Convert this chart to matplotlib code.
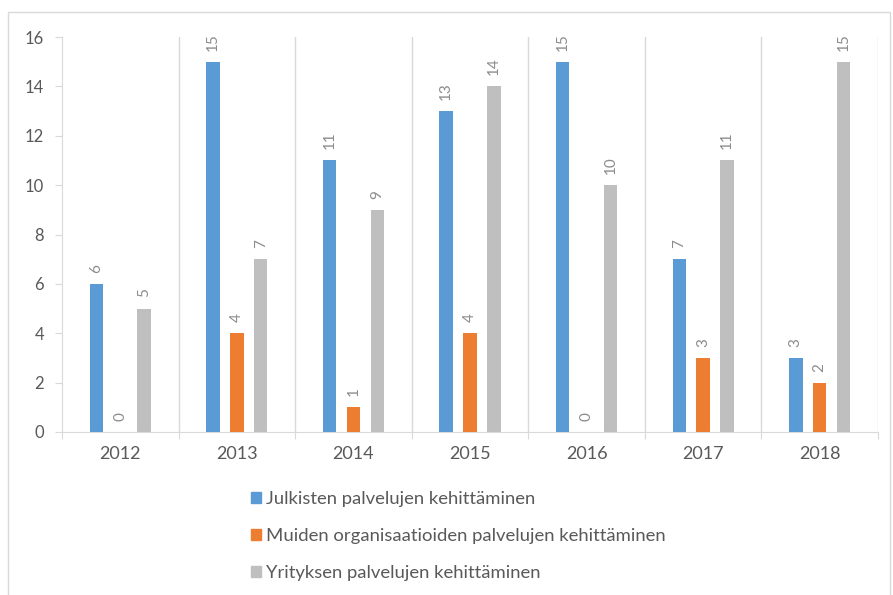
import matplotlib.pyplot as plt
import matplotlib.patches as mpatches
import numpy as np

years = ['2012', '2013', '2014', '2015', '2016', '2017', '2018']
series_names = [
    'Julkisten palvelujen kehittäminen',
    'Muiden organisaatioiden palvelujen kehittäminen',
    'Yrityksen palvelujen kehittäminen',
]
julkiset = [6, 15, 11, 13, 15, 7, 3]
muut = [0, 4, 1, 4, 0, 3, 2]
yritykset = [5, 7, 9, 14, 10, 11, 15]
colors = ['#5B9BD5', '#ED7D31', '#BFBFBF']

text_gray = '#8C8C8C'
grid_gray = '#D9D9D9'
plt.rcParams['font.family'] = ['Lato', 'DejaVu Sans']

fig = plt.figure(figsize=(8.93, 5.95), dpi=100)
# outer chart border
fig.patches.append(mpatches.Rectangle((8 / 893, -0.01), 882 / 893, 1 - 12 / 595 + 0.01,
                                      transform=fig.transFigure, fill=False,
                                      edgecolor=grid_gray, linewidth=1))

ax = fig.add_axes([62 / 893, 163 / 595, 816 / 893, 395 / 595])
x = np.arange(len(years))
width = 0.115
offset = 0.205
for i, (vals, c) in enumerate(zip([julkiset, muut, yritykset], colors)):
    bars = ax.bar(x + (i - 1) * offset, vals, width, color=c, label=series_names[i], zorder=3)
    for b, v in zip(bars, vals):
        ax.annotate(str(v), (b.get_x() + b.get_width() / 2, v), xytext=(0, 8),
                    textcoords='offset points', rotation=90, ha='center', va='bottom',
                    fontsize=11, color=text_gray)

ax.set_xlim(-0.5, len(years) - 0.5)
ax.set_ylim(0, 16)
ax.set_yticks(range(0, 17, 2))
ax.tick_params(axis='y', labelsize=12, labelcolor='#595959', color=grid_gray, length=5, pad=8)

# category boundaries for ticks / vertical grid
ax.set_xticks(np.arange(-0.5, len(years), 1))
ax.set_xticklabels([])
ax.set_xticks(x, minor=True)
ax.set_xticklabels(years, minor=True)
ax.tick_params(axis='x', which='major', color=grid_gray, length=5)
ax.tick_params(axis='x', which='minor', length=0, labelsize=13, labelcolor='#595959', pad=10)
for xb in np.arange(0.5, len(years) - 0.5, 1):
    ax.axvline(xb, color=grid_gray, linewidth=1, zorder=1)
ax.axvline(len(years) - 0.5, color=grid_gray, linewidth=1, zorder=1)

for s in ['top', 'right']:
    ax.spines[s].set_visible(False)
ax.spines['left'].set_color(grid_gray)
ax.spines['bottom'].set_color(grid_gray)

handles = [mpatches.Patch(color=c) for c in colors]
fig.legend(handles, series_names, loc='upper left', bbox_to_anchor=(234 / 893, 1 - 474 / 595),
           frameon=False, fontsize=13.3, labelcolor='#595959', handlelength=0.55,
           handleheight=0.55, handletextpad=0.3, labelspacing=1.15)

fig.savefig('out.png', dpi=100)
